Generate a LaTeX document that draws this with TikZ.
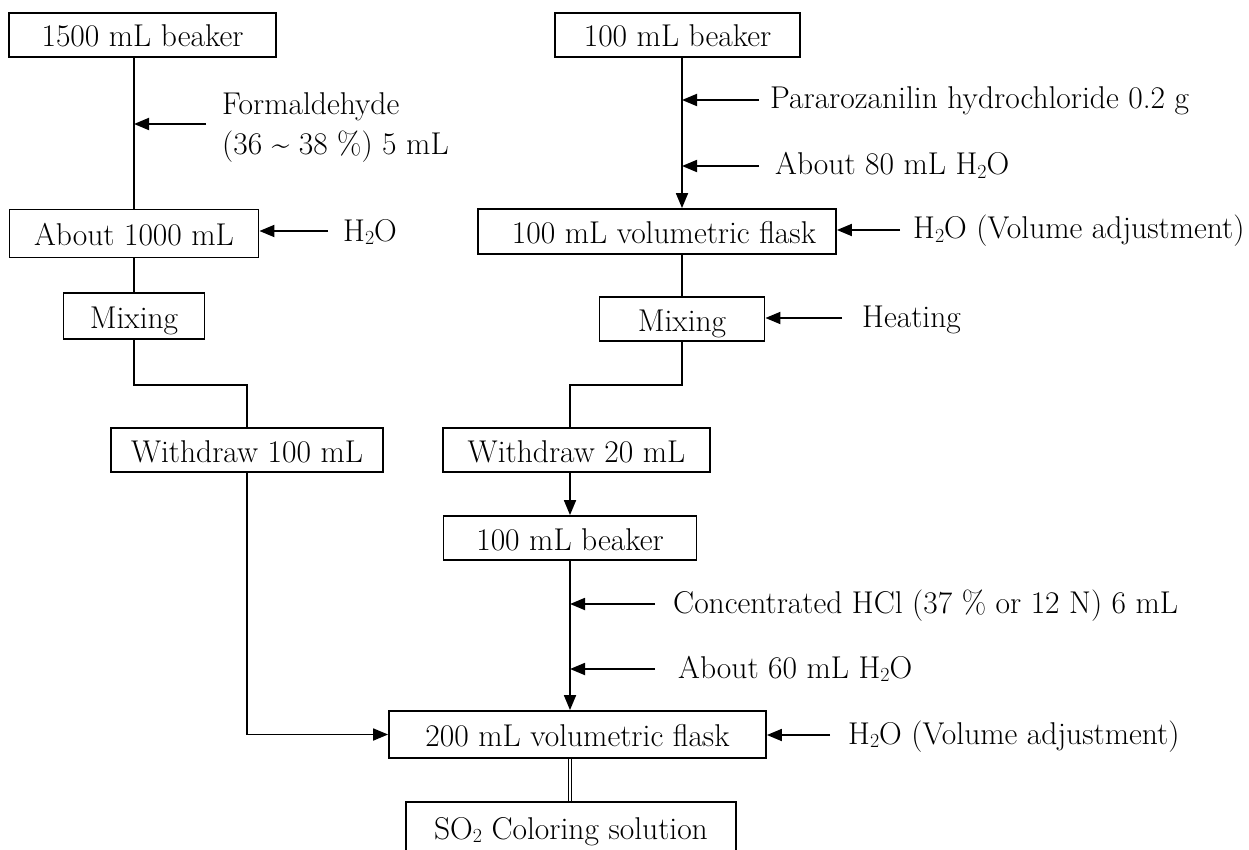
\documentclass[tikz,border=0pt]{standalone}
\usetikzlibrary{arrows.meta}
% small lowered index for chemical formulas
\newcommand\chemsub[1]{\raisebox{-0.1em}{\fontsize{20}{20}\selectfont #1}}
\begin{document}
\begin{tikzpicture}[x=1pt,y=-1pt,
  every node/.style={font=\fontsize{31.5}{36}\selectfont},
  box/.style={draw, line width=1.8pt, inner sep=0pt, text height=26pt, text depth=2pt, align=center},
  lbl/.style={anchor=base west, inner sep=0pt},
  link/.style={line width=1.8pt},
  feed/.style={line width=1.8pt, -{Triangle[length=15pt,width=12pt]}}]
\useasboundingbox (0,0) rectangle (1249,850);
\clip (0,0) rectangle (1249,850);

% process steps
\node[box, minimum width=267pt, minimum height=44pt] (b1500) at (142.5,35) {1500 mL beaker};
\node[box, minimum width=249pt, minimum height=48pt] (a1000) at (134,233.5) {About 1000 mL};
\node[box, minimum width=141pt, minimum height=46pt] (mixL) at (134,316) {Mixing};
\node[box, minimum width=272pt, minimum height=44pt] (w100) at (247,450) {Withdraw 100 mL};
\node[box, minimum width=245pt, minimum height=44pt] (b100) at (677.5,35) {100 mL beaker};
\node[box, minimum width=358pt, minimum height=45pt] (f100) at (657,231.5) {\hspace{14pt}100 mL volumetric flask};
\node[box, minimum width=165pt, minimum height=44pt] (mixR) at (682,319) {Mixing};
\node[box, minimum width=267pt, minimum height=44pt] (w20) at (576.5,450) {Withdraw 20 mL};
\node[box, minimum width=253pt, minimum height=44pt] (b100m) at (570,538) {100 mL beaker};
\node[box, minimum width=377pt, minimum height=47pt] (f200) at (577.5,734.5) {200 mL volumetric flask};
\node[box, minimum width=330pt, minimum height=50pt] (so2) at (571,827) {SO\chemsub{2} Coloring solution};

% main flow
\draw[link] (b1500.south -| a1000.north) -- (a1000.north);
\draw[link] (a1000.south) -- (mixL.north);
\draw[link] (mixL.south) -- ++(0,45) -| (w100.north);
\draw[feed] (w100.south) |- (f200.west);
\draw[feed] (b100.south -| mixR.north) -- (f100.north -| mixR.north);
\draw[link] (f100.south -| mixR.north) -- (mixR.north);
\draw[link] (mixR.south) -- ++(0,43) -| (w20.north -| b100m.north);
\draw[feed] (w20.south -| b100m.north) -- (b100m.north);
\draw[feed] (b100m.south) -- (f200.north -| b100m.south);
\draw[line width=1.2pt, double distance=2.4pt] (f200.south -| b100m.south) -- (so2.north -| b100m.south);

% additions
\coordinate (formIn) at (206,124);
\draw[feed] (formIn) -- (formIn -| a1000.north);
\node[lbl] (formT1) at (222,115) {Formaldehyde};
\node[lbl] (formT2) at (222,155) {(36 \textasciitilde{} 38 \%) 5 mL};

\coordinate (waterIn) at (328,231);
\draw[feed] (waterIn) -- (waterIn -| a1000.east);
\node[lbl] (waterT) at (343,241) {H\chemsub{2}O};

\coordinate (pararIn) at (759,100);
\draw[feed] (pararIn) -- (pararIn -| mixR.north);
\node[lbl] (pararT) at (770,109) {Pararozanilin hydrochloride 0.2 g};

\coordinate (w80In) at (759,166);
\draw[feed] (w80In) -- (w80In -| mixR.north);
\node[lbl] (w80T) at (775,175) {About 80 mL H\chemsub{2}O};

\coordinate (volAIn) at (900,230);
\draw[feed] (volAIn) -- (volAIn -| f100.east);
\node[lbl] (volAT) at (913,239) {H\chemsub{2}O (Volume adjustment)};

\coordinate (heatIn) at (842,318);
\draw[feed] (heatIn) -- (heatIn -| mixR.east);
\node[lbl] (heatT) at (862,327) {Heating};

\coordinate (hclIn) at (655,604);
\draw[feed] (hclIn) -- (hclIn -| b100m.south);
\node[lbl] (hclT) at (673,613) {Concentrated HCl (37 \% or 12 N) 6 mL};

\coordinate (w60In) at (655,669);
\draw[feed] (w60In) -- (w60In -| b100m.south);
\node[lbl] (w60T) at (678,678) {About 60 mL H\chemsub{2}O};

\coordinate (volBIn) at (830,735);
\draw[feed] (volBIn) -- (volBIn -| f200.east);
\node[lbl] (volBT) at (848,744) {H\chemsub{2}O (Volume adjustment)};
\end{tikzpicture}
\end{document}
